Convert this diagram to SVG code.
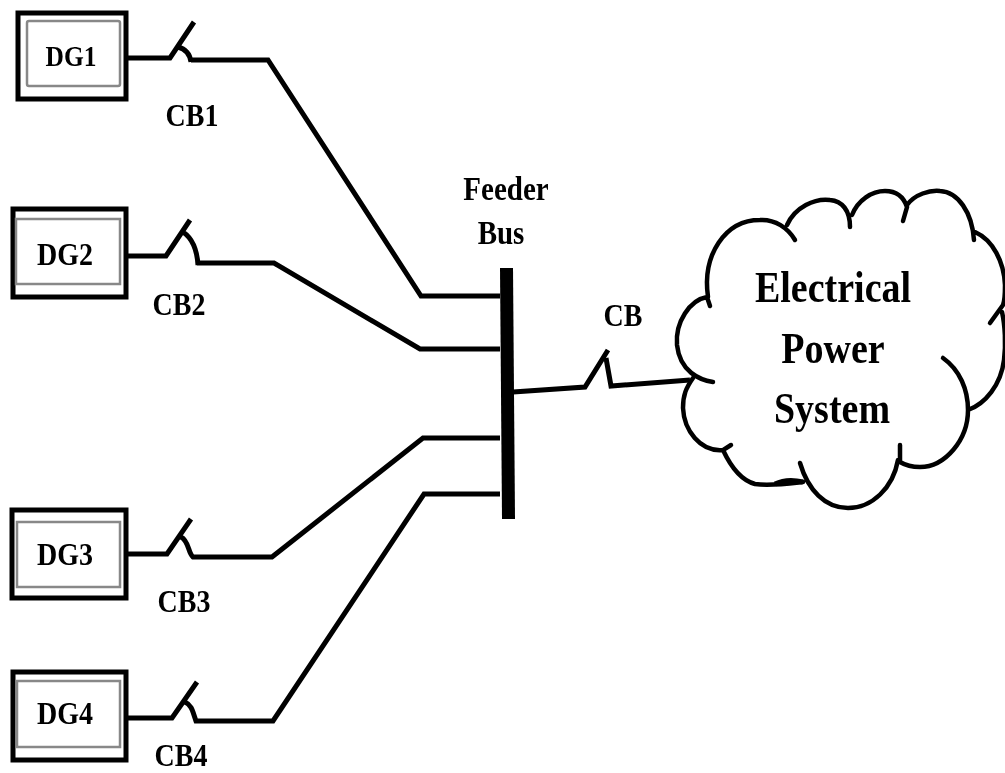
<svg xmlns="http://www.w3.org/2000/svg" width="1005" height="773" viewBox="0 0 1005 773">
<defs>
<filter id="soft" x="-2%" y="-2%" width="104%" height="104%"><feGaussianBlur stdDeviation="0.7"/></filter>
</defs>
<style>
.outer{fill:#fff;stroke:#000;stroke-width:5}
.inner{fill:#fff;stroke:#888;stroke-width:2.5}
.wire{fill:none;stroke:#000;stroke-width:5;stroke-linejoin:miter}
.cloud{fill:none;stroke:#000;stroke-width:4.5;stroke-linecap:round}
text{font-family:"Liberation Serif","Times New Roman",serif;font-weight:700;text-anchor:middle;fill:#000}
.s{font-size:28px}
.f{font-size:29px}
.l{font-size:38px}
</style>
<rect width="1005" height="773" fill="#fff"/>
<g filter="url(#soft)">
<g id="connectors">
<path class="wire" d="M127 58H170L194 22M178 47C186 49 190 55 191 62M191 60H268L421 296H500"/>
<path class="wire" d="M127 256H166L190 220M183 232C192 238 197 250 198 265M197 263H274L420 349H500"/>
<path class="wire" d="M127 554H167L191 519M181 537C189 541 188 553 193 557H272L423 438H500"/>
<path class="wire" d="M127 718H172L197 682M185 702C192 705 193 713 196 721H273L424 494H500"/>
<path class="wire" d="M513 392L585 387L608 350M606 358L611 386L690 380"/>
</g>
<g id="feeder-bus">
<polygon points="500,268 513,268 515,519 502,519" fill="#000"/>
<text class="f" transform="translate(506,200) scale(1,1.15)">Feeder</text>
<text class="f" transform="translate(501,244) scale(1,1.15)">Bus</text>
</g>
<g id="dg1"><rect class="outer" x="18" y="13" width="108" height="86"/><rect class="inner" x="27" y="21" width="93" height="65" rx="2"/><text class="s" style="font-size:25.5px" transform="translate(71,66) scale(1,1.15)">DG1</text></g>
<g id="dg2"><rect class="outer" x="13" y="209" width="113" height="88"/><rect class="inner" x="16" y="219" width="104" height="65"/><text class="s" transform="translate(65,265) scale(1,1.15)">DG2</text></g>
<g id="dg3"><rect class="outer" x="12" y="510" width="114" height="88"/><rect class="inner" x="17" y="522" width="103" height="65"/><text class="s" transform="translate(65,565) scale(1,1.15)">DG3</text></g>
<g id="dg4"><rect class="outer" x="13" y="672" width="113" height="88"/><rect class="inner" x="17" y="681" width="103" height="66"/><text class="s" transform="translate(65,724) scale(1,1.15)">DG4</text></g>
<g id="cb1"><text class="s" transform="translate(192,126) scale(1,1.15)">CB1</text></g>
<g id="cb2"><text class="s" transform="translate(179,315) scale(1,1.15)">CB2</text></g>
<g id="cb3"><text class="s" transform="translate(184,612) scale(1,1.15)">CB3</text></g>
<g id="cb4"><text class="s" transform="translate(181,766) scale(1,1.12)">CB4</text></g>
<g id="cb"><text class="s" transform="translate(623,326) scale(1,1.15)">CB</text></g>
<g id="electrical-power-system">
<path class="cloud" d="M713 382C700 380 680 372 677 345C675 322 690 300 707 297L710 306
M708 297C702 255 725 220 760 220C775 219 788 228 795 240
M787 225C795 207 815 198 830 200C842 201 850 210 850 227
M852 215C858 200 872 191 885 191C897 191 904 198 907 207L903 221
M907 205C915 194 930 190 940 191C958 192 972 212 974 240
M975 232C993 240 1004 262 1005 285C1005 295 1005 300 1003 305L990 323
M1002 312C1005 325 1006 345 1004 360C1001 385 985 404 968 410
M943 358C960 370 968 390 968 410C968 440 945 467 920 467C912 467 905 465 900 462L900 445
M898 460C893 488 872 508 848 508C825 508 808 490 800 463
M803 482C785 484 770 486 755 484C740 480 730 465 723 450L731 445
M723 450C700 452 684 430 683 408C683 395 686 388 693 378"/>
<path d="M775 484C785 479 795 480 803 482" fill="none" stroke="#000" stroke-width="5"/>
<text class="l" transform="translate(833,302) scale(1,1.15)">Electrical</text>
<text class="l" transform="translate(833,363) scale(1,1.15)">Power</text>
<text class="l" transform="translate(832,423) scale(1,1.15)">System</text>
</g>
</g>
</svg>
